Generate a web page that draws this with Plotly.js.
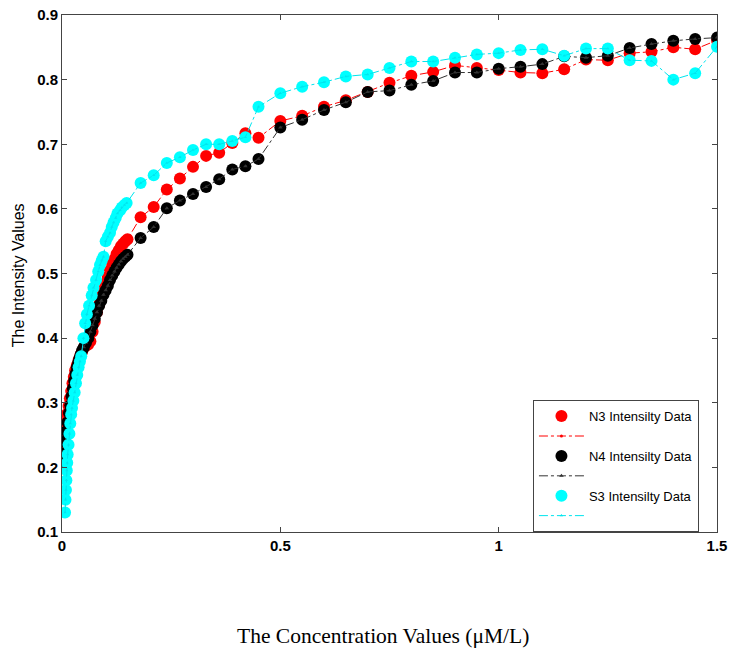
<!DOCTYPE html>
<html>
<head>
<meta charset="utf-8">
<script src="https://cdn.plot.ly/plotly-3.0.1.min.js"></script>
<style>html,body{margin:0;padding:0;background:#fff;}#chart{width:734px;height:652px;}</style>
</head>
<body>
<div id="chart"></div>
<script>
// N3 series
const xN3 = [0.001,0.003,0.006,0.009,0.012,0.015,0.018,0.021,0.024,0.027,0.030,0.034,0.038,0.042,0.046,0.050,0.055,0.060,0.065,0.070,0.075,0.080,0.085,0.090,0.095,0.100,0.105,0.110,0.115,0.120,0.125,0.130,0.135,0.140,0.145,0.150,
  0.18,0.21,0.24,0.27,0.30,0.33,0.36,0.39,0.42,0.45,
  0.50,0.55,0.60,0.65,0.70,0.75,0.80,0.85,0.90,0.95,1.00,1.05,1.10,1.15,1.20,1.25,1.30,1.35,1.40,1.45,1.50];
const yN3 = [0.225,0.235,0.255,0.270,0.283,0.295,0.307,0.318,0.330,0.340,0.350,0.358,0.366,0.373,0.379,0.385,0.388,0.390,0.395,0.410,0.425,0.440,0.452,0.465,0.475,0.485,0.495,0.505,0.515,0.522,0.530,0.536,0.542,0.546,0.550,0.553,
  0.587,0.603,0.630,0.647,0.665,0.682,0.687,0.702,0.717,0.710,
  0.736,0.744,0.758,0.768,0.781,0.795,0.806,0.812,0.822,0.818,0.815,0.811,0.810,0.816,0.831,0.830,0.841,0.843,0.850,0.847,0.861];

// N4 series
const xN4 = [0.001,0.004,0.007,0.010,0.013,0.016,0.019,0.022,0.025,0.028,0.031,0.034,0.037,0.040,0.043,0.046,0.050,0.055,0.060,0.065,0.070,0.075,0.080,0.085,0.090,0.095,0.100,0.105,0.110,0.115,0.120,0.125,0.130,0.135,0.140,0.145,0.150,
  0.18,0.21,0.24,0.27,0.30,0.33,0.36,0.39,0.42,0.45,
  0.50,0.55,0.60,0.65,0.70,0.75,0.80,0.85,0.90,0.95,1.00,1.05,1.10,1.15,1.20,1.25,1.30,1.35,1.40,1.45,1.50];
const yN4 = [0.205,0.222,0.240,0.256,0.270,0.284,0.296,0.310,0.322,0.334,0.345,0.355,0.362,0.369,0.375,0.381,0.386,0.393,0.400,0.410,0.420,0.430,0.440,0.450,0.458,0.467,0.474,0.481,0.490,0.497,0.503,0.509,0.514,0.519,0.523,0.526,0.529,
  0.555,0.572,0.601,0.613,0.623,0.634,0.646,0.661,0.666,0.677,
  0.726,0.738,0.753,0.765,0.781,0.783,0.792,0.798,0.811,0.811,0.817,0.820,0.824,0.836,0.834,0.837,0.849,0.855,0.860,0.863,0.865];

// S3 series
const xS3 = [0.007,0.008,0.009,0.010,0.011,0.012,0.013,0.015,0.017,0.019,0.021,0.023,0.026,0.029,0.032,0.035,0.038,0.041,0.044,0.049,0.053,0.057,0.062,0.068,0.072,0.078,0.083,0.087,0.091,0.095,0.100,0.105,0.110,0.114,0.118,0.123,0.127,0.133,0.137,0.143,0.148,
  0.18,0.21,0.24,0.27,0.30,0.33,0.36,0.39,0.42,0.45,
  0.50,0.55,0.60,0.65,0.70,0.75,0.80,0.85,0.90,0.95,1.00,1.05,1.10,1.15,1.20,1.25,1.30,1.35,1.40,1.45,1.50];
const yS3 = [0.130,0.150,0.165,0.180,0.195,0.207,0.220,0.235,0.252,0.268,0.282,0.292,0.303,0.316,0.330,0.343,0.355,0.364,0.372,0.400,0.423,0.437,0.450,0.466,0.478,0.490,0.503,0.513,0.520,0.526,0.550,0.557,0.563,0.572,0.579,0.586,0.593,0.598,0.602,0.606,0.609,
  0.640,0.652,0.671,0.680,0.691,0.700,0.700,0.705,0.711,0.758,
  0.779,0.789,0.796,0.805,0.808,0.818,0.828,0.828,0.834,0.839,0.841,0.846,0.847,0.837,0.848,0.848,0.830,0.829,0.800,0.810,0.851];

const names = ['N3 Intensilty Data', 'N4 Intensilty Data', 'S3 Intensilty Data'];
const xTicks = [0, 0.5, 1, 1.5];
const xTickText = ['0', '0.5', '1', '1.5'];
const yTicks = [0.1, 0.2, 0.3, 0.4, 0.5, 0.6, 0.7, 0.8, 0.9];
const yTickText = ['0.1', '0.2', '0.3', '0.4', '0.5', '0.6', '0.7', '0.8', '0.9'];

const series = [
  {x: xN3, y: yN3, name: names[0], color: '#ff0000', lineColor: '#ff0000', sym: 'circle', ms: 3},
  {x: xN4, y: yN4, name: names[1], color: '#000000', lineColor: '#333333', sym: 'triangle-up', ms: 4},
  {x: xS3, y: yS3, name: names[2], color: '#00ffff', lineColor: '#00e5ee', sym: 'triangle-up', ms: 3}
];

const traces = [];
series.forEach(s => {
  traces.push({
    x: s.x, y: s.y, type: 'scatter', mode: 'markers', name: s.name,
    marker: {color: s.color, size: 12, symbol: 'circle', line: {width: 0}}
  });
  traces.push({
    x: s.x, y: s.y, type: 'scatter', mode: 'lines+markers', name: ' ',
    line: {color: s.lineColor, width: 1, dash: 'dashdot'},
    marker: {color: s.lineColor, size: s.ms, symbol: s.sym}
  });
});

const axisCommon = {
  showline: true, linecolor: '#444', linewidth: 1, mirror: 'ticks',
  ticks: 'inside', ticklen: 5, tickcolor: '#444', tickwidth: 1,
  showgrid: false, zeroline: false,
  tickfont: {family: 'Liberation Sans, Arial, sans-serif', size: 15, color: '#000', weight: 'bold'}
};

const layout = {
  width: 734, height: 652,
  margin: {l: 62, r: 17, t: 15, b: 120},
  paper_bgcolor: '#fff', plot_bgcolor: '#fff',
  showlegend: true,
  xaxis: Object.assign({}, axisCommon, {range: [0, 1.5], tickvals: xTicks, ticktext: xTickText}),
  yaxis: Object.assign({}, axisCommon, {range: [0.1, 0.9], tickvals: yTicks, ticktext: yTickText}),
  legend: {
    x: 0.719, y: 0.255, xanchor: 'left', yanchor: 'top',
    bgcolor: '#fff', bordercolor: '#444', borderwidth: 1,
    font: {family: 'Liberation Sans, Arial, sans-serif', size: 13, color: '#000'},
    itemwidth: 45,
    tracegroupgap: 0
  },
  annotations: [
    {text: 'The Concentration Values (μM/L)', xref: 'paper', yref: 'paper', x: 0.49, y: -0.201,
     xanchor: 'center', yanchor: 'middle', showarrow: false,
     font: {family: 'Liberation Serif, Times New Roman, serif', size: 21.5, color: '#000'}},
    {text: 'The Intensity Values', xref: 'paper', yref: 'paper', x: -0.067, y: 0.497,
     xanchor: 'center', yanchor: 'middle', showarrow: false, textangle: -90,
     font: {family: 'Liberation Sans, Arial, sans-serif', size: 16, color: '#000'}}
  ]
};

Plotly.newPlot('chart', traces, layout, {displayModeBar: false, staticPlot: true});
</script>
</body>
</html>
